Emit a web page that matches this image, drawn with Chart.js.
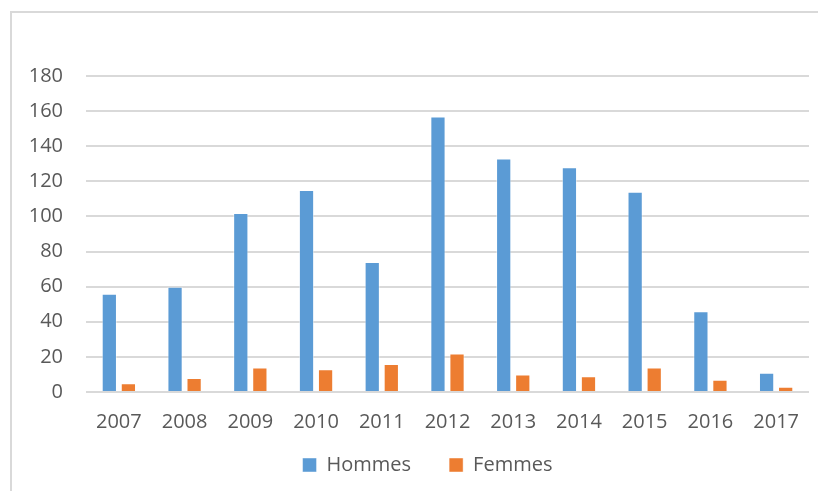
<!DOCTYPE html>
<html>
<head>
<meta charset="utf-8">
<script src="https://cdn.jsdelivr.net/npm/chart.js@4/dist/chart.umd.min.js"></script>
<style>
  html, body { margin: 0; padding: 0; background: #fff; overflow: hidden; }
  #wrap { position: relative; width: 818px; height: 491px; }
  #frame {
    position: absolute; left: 10px; top: 11px; width: 900px; height: 600px;
    border-left: 2px solid #d9d9d9; border-top: 2px solid #d9d9d9;
  }
  canvas { position: absolute; left: 0; top: 0; }
</style>
</head>
<body>
<div id="wrap">
  <div id="frame"></div>
  <canvas id="chart" width="818" height="491"></canvas>
</div>
<script>
const years = ['2007', '2008', '2009', '2010', '2011', '2012', '2013', '2014', '2015', '2016', '2017']
const hommes = [56, 60, 102, 115, 74, 157, 133, 128, 114, 46, 11]
const femmes = [5, 8, 14, 13, 16, 22, 10, 9, 14, 7, 3]

const tickFont = { family: 'Open Sans', size: 20 }
const textColor = '#595959'

// legend items sit far apart (padding 38) but the legend box stays short
const legendBox = {
  id: 'legendBox',
  afterInit (chart) {
    const fit = chart.legend.fit
    chart.legend.fit = function () {
      fit.call(this)
      this.height = 47
    }
  },
  afterLayout (chart) {
    // draw the items higher; the legend clips to its box so only move the top
    chart.legend.top -= 27
    // the original legend is centred a bit right of the canvas centre
    chart.legend.left += 46
  }
}

new Chart(document.getElementById('chart').getContext('2d'), {
  type: 'bar',
  data: {
    labels: years,
    datasets: [
      {
        label: 'Hommes',
        data: hommes,
        backgroundColor: '#5b9bd5',
        borderColor: 'rgba(255,255,255,0.45)',
        borderWidth: 1,
        categoryPercentage: 0.58,
        barPercentage: 0.8
      },
      {
        label: 'Femmes',
        data: femmes,
        backgroundColor: '#ed7d31',
        borderColor: 'rgba(255,255,255,0.45)',
        borderWidth: 1,
        categoryPercentage: 0.58,
        barPercentage: 0.8
      }
    ]
  },
  plugins: [legendBox],
  options: {
    responsive: false,
    animation: false,
    layout: { padding: { top: 76, right: 9, left: 0, bottom: 0 } },
    plugins: {
      tooltip: { enabled: false },
      legend: {
        position: 'bottom',
        labels: {
          color: textColor,
          font: tickFont,
          boxWidth: 14,
          boxHeight: 14,
          padding: 38
        }
      }
    },
    scales: {
      x: {
        grid: { display: false },
        border: { display: false },
        ticks: { color: textColor, font: tickFont, padding: 10, maxRotation: 0 }
      },
      y: {
        min: 0,
        max: 180,
        afterFit: axis => { axis.width = 86 },
        grid: { color: '#d9d9d9', lineWidth: 2, drawTicks: false },
        border: { display: false },
        ticks: { color: textColor, font: tickFont, stepSize: 20, padding: 23 }
      }
    }
  }
})
</script>
</body>
</html>
